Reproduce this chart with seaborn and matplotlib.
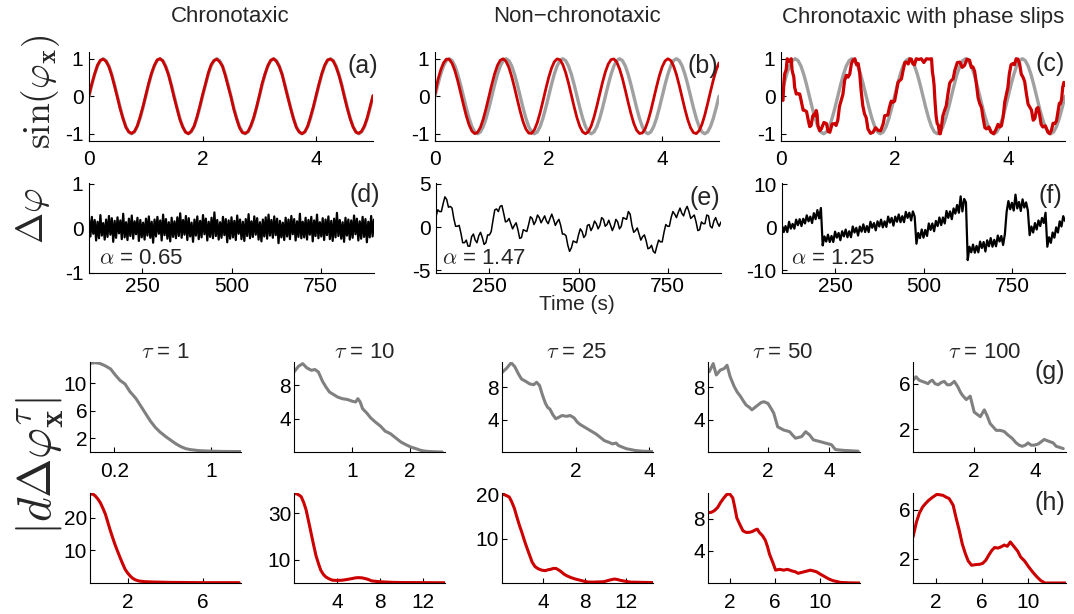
import matplotlib
matplotlib.use("Agg")
import matplotlib.pyplot as plt
from matplotlib.ticker import FormatStrFormatter
import numpy as np
import seaborn as sns

# ---------------- top row: sin(phase), t = 0..5 s ----------------
t_top = np.linspace(0, 5, 101)

sin_ref = [0.0, 0.309, 0.588, 0.809, 0.951, 1.0, 0.951, 0.809, 0.588, 0.309,
           0.0, -0.309, -0.588, -0.809, -0.951, -1.0, -0.951, -0.809, -0.588, -0.309,
           0.0, 0.309, 0.588, 0.809, 0.951, 1.0, 0.951, 0.809, 0.588, 0.309,
           0.0, -0.309, -0.588, -0.809, -0.951, -1.0, -0.951, -0.809, -0.588, -0.309,
           0.0, 0.309, 0.588, 0.809, 0.951, 1.0, 0.951, 0.809, 0.588, 0.309,
           0.0, -0.309, -0.588, -0.809, -0.951, -1.0, -0.951, -0.809, -0.588, -0.309,
           0.0, 0.309, 0.588, 0.809, 0.951, 1.0, 0.951, 0.809, 0.588, 0.309,
           0.0, -0.309, -0.588, -0.809, -0.951, -1.0, -0.951, -0.809, -0.588, -0.309,
           0.0, 0.309, 0.588, 0.809, 0.951, 1.0, 0.951, 0.809, 0.588, 0.309,
           0.0, -0.309, -0.588, -0.809, -0.951, -1.0, -0.951, -0.809, -0.588, -0.309,
           0.0]

sin_chrono = [0.02, 0.33, 0.6, 0.83, 0.96, 0.99, 0.93, 0.79, 0.56, 0.27,
              -0.03, -0.34, -0.6, -0.83, -0.95, -0.99, -0.94, -0.79, -0.55, -0.28,
              0.03, 0.34, 0.61, 0.82, 0.97, 1.0, 0.94, 0.78, 0.57, 0.28,
              -0.04, -0.33, -0.62, -0.82, -0.96, -1.0, -0.93, -0.8, -0.56, -0.27,
              0.04, 0.32, 0.62, 0.84, 0.95, 0.99, 0.92, 0.8, 0.55, 0.26,
              -0.02, -0.35, -0.61, -0.84, -0.97, -0.99, -0.94, -0.78, -0.57, -0.29,
              0.02, 0.35, 0.6, 0.82, 0.96, 1.0, 0.93, 0.79, 0.58, 0.27,
              -0.03, -0.32, -0.6, -0.83, -0.95, -1.0, -0.95, -0.8, -0.55, -0.28,
              0.03, 0.33, 0.61, 0.83, 0.97, 0.99, 0.94, 0.78, 0.56, 0.28,
              -0.04, -0.34, -0.61, -0.82, -0.96, -0.99, -0.93, -0.79, -0.57, -0.27,
              0.02]

sin_nonchrono = [0.05, 0.434, 0.699, 0.890, 0.989, 0.985, 0.879, 0.681, 0.412, 0.101,
                 -0.221, -0.520, -0.764, -0.930, -0.998, -0.963, -0.828, -0.605, -0.320, -0.004,
                 0.314, 0.600, 0.824, 0.961, 0.999, 0.932, 0.770, 0.527, 0.229, -0.093,
                 -0.405, -0.676, -0.875, -0.983, -0.990, -0.894, -0.707, -0.443, -0.133, 0.189,
                 0.492, 0.743, 0.918, 0.996, 0.972, 0.845, 0.632, 0.353, 0.036, -0.284,
                 -0.577, -0.806, -0.952, -1.000, -0.945, -0.791, -0.554, -0.260, 0.061, 0.375,
                 0.651, 0.858, 0.977, 0.994, 0.908, 0.727, 0.471, 0.165, -0.158, -0.463,
                 -0.724, -0.905, -0.993, -0.979, -0.866, -0.659, -0.385, -0.068, 0.252, 0.547,
                 0.785, 0.941, 1.000, 0.954, 0.809, 0.582, 0.292, -0.028, -0.345, -0.627,
                 -0.842, -0.970, -0.997, -0.920, -0.749, -0.500, -0.196, 0.125, 0.434, 0.699,
                 0.890]

t_slips = [0.0, 0.003, 0.006, 0.02, 0.035, 0.05, 0.065, 0.09, 0.11, 0.145,
           0.18, 0.195, 0.21, 0.225, 0.24, 0.27, 0.30, 0.33, 0.36, 0.39,
           0.42, 0.45, 0.48, 0.505, 0.53, 0.56, 0.59, 0.605, 0.62, 0.635,
           0.65, 0.68, 0.71, 0.755, 0.80, 0.83, 0.86, 0.90, 0.94, 0.97,
           1.0, 1.03, 1.06, 1.09, 1.12, 1.15, 1.18, 1.21, 1.24, 1.27,
           1.30, 1.33, 1.36, 1.385, 1.41, 1.44, 1.47, 1.50, 1.53, 1.575,
           1.62, 1.665, 1.71, 1.755, 1.80, 1.825, 1.85, 1.88, 1.91, 1.94,
           1.97, 2.0, 2.03, 2.06, 2.09, 2.12, 2.15, 2.18, 2.21, 2.24,
           2.27, 2.295, 2.32, 2.35, 2.38, 2.425, 2.47, 2.515, 2.56, 2.605,
           2.65, 2.665, 2.68, 2.695, 2.71, 2.73, 2.75, 2.77, 2.79, 2.805,
           2.82, 2.85, 2.88, 2.91, 2.94, 2.97, 3.0, 3.03, 3.06, 3.105,
           3.15, 3.19, 3.23, 3.275, 3.32, 3.35, 3.38, 3.41, 3.44, 3.47,
           3.50, 3.53, 3.56, 3.59, 3.62, 3.66, 3.70, 3.745, 3.79, 3.82,
           3.85, 3.88, 3.91, 3.94, 3.97, 3.995, 4.02, 4.05, 4.08, 4.11,
           4.14, 4.17, 4.20, 4.23, 4.26, 4.29, 4.32, 4.35, 4.38, 4.41,
           4.44, 4.47, 4.50, 4.525, 4.55, 4.58, 4.61, 4.655, 4.70, 4.73,
           4.76, 4.79, 4.82, 4.85, 4.88, 4.90, 4.92, 4.94, 4.96, 4.98,
           5.0]
sin_slips = [0.05, 0.18, 0.11, -0.1, -0.11, 0.35, 0.6, 0.7, 1.0, 0.93,
             1.0, 0.7, 0.6, 0.52, 0.24, 0.06, 0.07, 0.06, -0.16, -0.37,
             -0.38, -0.41, -0.64, -0.81, -0.78, -0.52, -0.47, -0.52, -0.38, -0.48,
             -0.78, -0.92, -0.87, -0.7, -0.73, -0.94, -0.96, -0.74, -0.73, -0.78,
             -0.64, -0.27, -0.11, 0.05, 0.42, 0.56, 0.51, 0.59, 0.87, 0.97,
             1.0, 0.84, 0.87, 0.62, 0.16, -0.25, -0.47, -0.57, -0.87, -0.99,
             -0.96, -0.84, -0.91, -0.92, -0.73, -0.52, -0.51, -0.5, -0.29, -0.13,
             -0.16, -0.13, 0.11, 0.37, 0.42, 0.46, 0.69, 0.9, 0.91, 0.86,
             1.0, 0.99, 0.87, 0.84, 1.0, 0.98, 1.0, 0.9, 1.0, 0.99,
             1.0, 0.66, 0.51, 0.3, -0.11, -0.52, -0.73, -0.77, -1.0, -1.0,
             -0.87, -0.52, -0.38, -0.25, 0.07, 0.35, 0.42, 0.46, 0.69, 0.9,
             0.91, 0.77, 0.82, 0.99, 0.96, 0.77, 0.78, 0.66, 0.33, -0.04,
             -0.2, -0.3, -0.6, -0.84, -0.87, -0.82, -0.96, -1.0, -0.87, -0.75,
             -0.82, -0.79, -0.56, -0.15, 0.07, 0.24, 0.6, 0.84, 0.87, 0.84,
             1.0, 0.99, 0.87, 0.59, 0.51, 0.39, 0.07, -0.21, -0.29, -0.37,
             -0.64, -0.59, -0.33, -0.3, -0.47, -0.75, -0.82, -0.79, -0.96, -1.0,
             -0.91, -0.72, -0.73, -0.66, -0.38, -0.19, -0.2, -0.08, 0.24, 0.37,
             0.3]

# ---------------- middle row: phase difference, t = 100..900 s ----------------
t_d = np.arange(100, 901, 4)
t_ef = np.arange(100, 901, 5)

dphi_chrono = [0.21, -0.18, 0.26, -0.12, 0.19, -0.27, 0.15, -0.22, 0.3, -0.16,
               0.12, -0.25, 0.2, -0.19, 0.28, -0.14, 0.23, -0.3, 0.17, -0.21,
               0.25, -0.11, 0.18, -0.24, 0.33, -0.2, 0.14, -0.26, 0.22, -0.17,
               0.29, -0.23, 0.16, -0.13, 0.24, -0.28, 0.19, -0.2, 0.13, -0.25,
               0.22, -0.16, 0.27, -0.21, 0.15, -0.32, 0.2, -0.18, 0.26, -0.12,
               0.18, -0.27, 0.31, -0.15, 0.21, -0.23, 0.14, -0.29, 0.24, -0.19,
               0.16, -0.22, 0.25, -0.17, 0.34, -0.21, 0.19, -0.14, 0.28, -0.26,
               0.23, -0.18, 0.13, -0.3, 0.2, -0.16, 0.27, -0.24, 0.17, -0.2,
               0.3, -0.13, 0.22, -0.27, 0.15, -0.19, 0.24, -0.22, 0.36, -0.17,
               0.19, -0.25, 0.14, -0.21, 0.26, -0.15, 0.21, -0.31, 0.18, -0.23,
               0.25, -0.2, 0.17, -0.26, 0.29, -0.12, 0.2, -0.24, 0.15, -0.28,
               0.21, -0.17, 0.32, -0.22, 0.16, -0.19, 0.27, -0.14, 0.23, -0.25,
               0.14, -0.29, 0.2, -0.18, 0.25, -0.23, 0.31, -0.16, 0.19, -0.21,
               0.27, -0.15, 0.22, -0.33, 0.17, -0.2, 0.13, -0.26, 0.24, -0.18,
               0.2, -0.24, 0.28, -0.13, 0.21, -0.27, 0.16, -0.19, 0.33, -0.22,
               0.15, -0.2, 0.24, -0.25, 0.19, -0.14, 0.26, -0.29, 0.18, -0.17,
               0.31, -0.22, 0.14, -0.18, 0.23, -0.26, 0.2, -0.15, 0.27, -0.24,
               0.17, -0.28, 0.22, -0.2, 0.35, -0.17, 0.19, -0.23, 0.14, -0.3,
               0.24, -0.16, 0.2, -0.25, 0.18, -0.21, 0.29, -0.13, 0.22, -0.27,
               0.16, -0.23, 0.26, -0.19, 0.21, -0.31, 0.15, -0.2, 0.28, -0.18,
               0.2]

dphi_nonchrono = [1.2, 2.0, 1.8, 1.8, 2.7, 3.5, 3.2, 2.3, 2.4, 2.2,
                  1.0, 0.1, 0.1, 0.2, -0.7, -1.8, -1.8, -1.5, -2.2, -2.2,
                  -1.1, -0.8, -1.5, -1.8, -1.0, -0.6, -1.2, -2.0, -1.8, -0.9,
                  -0.9, -0.5, 0.8, 2.0, 2.1, 1.8, 2.4, 2.5, 1.6, 0.6,
                  0.7, 1.0, 0.4, -0.2, 0.2, 0.5, -0.3, -1.3, -1.2, -0.3,
                  -0.4, -0.5, 0.3, 1.2, 1.0, 0.3, 0.7, 1.4, 1.1, 0.5,
                  0.9, 1.3, 0.7, 0.4, 1.0, 1.5, 0.9, 0.2, 0.6, 0.9,
                  0.2, -0.8, -0.8, -1.0, -2.1, -2.8, -2.4, -1.6, -1.7, -1.8,
                  -0.9, -0.2, -0.5, -1.2, -0.9, 0.2, 0.3, -0.4, 0.0, 0.7,
                  0.4, -0.2, 0.2, 1.1, 0.9, 0.1, 0.3, 0.8, 0.2, -0.4,
                  0.1, 0.9, 0.6, -0.2, 0.1, 1.1, 1.0, 0.9, 1.8, 1.5,
                  0.2, -0.6, -0.4, -0.1, -0.8, -1.5, -1.1, -0.9, -1.6, -2.5,
                  -2.4, -2.1, -2.8, -3.0, -2.2, -1.5, -1.7, -1.7, -0.6, 0.3,
                  0.1, 0.1, 1.1, 1.8, 1.5, 1.1, 1.7, 2.2, 1.6, 1.3,
                  2.0, 2.4, 1.8, 1.0, 1.2, 1.4, 0.6, -0.4, -0.3, 0.6,
                  0.4, 0.4, 1.4, 1.3, 0.1, -0.1, 0.7, 1.1, 0.5, 0.1,
                  0.6]

# phase-slip trace, one list per stretch between slips
slip_seg1 = [0.4, -1.1, 0.3, -1.1, 1.3, -0.3, 0.8, -0.3, 1.8, 0.5, 1.9, 0.3,
             2.0, 0.9, 2.8, 1.4, 2.5, 1.0, 3.3, 1.9, 4.0, 2.1, 4.5]
slip_seg2 = [-4.2, -2.1, -3.3, -1.7, -3.4, -2.0, -3.4, -1.0, -2.4, -1.3,
             -3.0, -0.9, -2.1, -0.5, -2.3, -0.9, -2.3, 0.2, -1.2, -0.1,
             -1.9, 0.2, -1.0, 0.7, -1.1, 0.3, -1.1, 1.3, -0.1, 1.0,
             -0.7, 1.4, 0.2, 1.8, 0.0, 1.4, 0.1, 2.5, 1.1, 2.2,
             0.4, 2.5, 1.3, 3.0, 1.2, 2.6, 1.2, 3.6, 2.2, 3.4,
             1.6, 3.7, 2.5]
slip_seg3 = [-3.8, -1.3, -2.5, -0.5, -2.4, -0.6, -2.0, 0.9, -0.6, 0.9,
             -0.9, 1.5, 0.3, 2.3, 0.5, 2.3, 0.9, 3.8, 2.2, 3.7,
             1.9, 4.4, 3.2, 5.2, 3.4, 7.2, 3.7, 6.6, 5.8]
slip_seg4 = [-7.6, -4.5, -5.8, -4.0, -5.9, -4.3, -5.8, -3.3, -4.8, -3.4,
             -5.6, -3.0, -4.4, -2.5, -4.5, -2.9, -4.4, -1.9, -3.3, -2.0,
             -4.1, -1.6]
slip_seg5 = [3.6, 6.1, 4.2, 5.7, 3.9, 7.6, 4.4, 5.9, 3.8, 6.5, 4.6, 5.8, 3.9]
slip_seg6 = [-1.8, 0.2, -1.2, 1.0, -0.5, 1.6, 0.3, 2.2, 1.0, 3.4]
slip_seg7 = [-4.5, -2.3, -3.6, -1.2, -2.4, 0.0, -1.2, 1.4, 0.2, 2.6, 1.5]
dphi_slips = slip_seg1 + slip_seg2 + slip_seg3 + slip_seg4 + slip_seg5 + slip_seg6 + slip_seg7

alpha_labels = ["0.65", "1.47", "1.25"]

# ---------------- bottom rows: densities of |d dphi^tau| ----------------
taus = [1, 10, 25, 50, 100]

g_x = [
    [0, 0.04, 0.08, 0.12, 0.17, 0.21, 0.25, 0.29, 0.33, 0.38, 0.42, 0.46, 0.5,
     0.54, 0.58, 0.63, 0.67, 0.71, 0.75, 0.79, 0.83, 0.9, 1.0, 1.1, 1.25],
    [0, 0.08, 0.15, 0.22, 0.3, 0.36, 0.42, 0.49, 0.55, 0.61, 0.68, 0.75, 0.83,
     0.92, 1.0, 1.06, 1.1, 1.14, 1.18, 1.25, 1.32, 1.4, 1.49, 1.57, 1.66, 1.75,
     1.84, 1.92, 2.01, 2.1, 2.18, 2.26, 2.35, 2.45, 2.55],
    [0, 0.12, 0.25, 0.35, 0.45, 0.53, 0.65, 0.75, 0.86, 0.94, 1.02, 1.1, 1.18,
     1.24, 1.3, 1.38, 1.46, 1.55, 1.63, 1.75, 1.85, 1.96, 2.04, 2.12, 2.23, 2.34,
     2.45, 2.56, 2.67, 2.78, 2.9, 3.0, 3.1, 3.16, 3.27, 3.38, 3.5, 3.6, 3.8, 4.09],
    [0.09, 0.22, 0.32, 0.45, 0.58, 0.67, 0.77, 0.9, 1.0, 1.1, 1.2, 1.29, 1.4,
     1.48, 1.58, 1.68, 1.78, 1.87, 2.0, 2.1, 2.19, 2.32, 2.42, 2.52, 2.62, 2.71,
     2.8, 2.9, 3.0, 3.1, 3.23, 3.36, 3.48, 3.58, 3.68, 3.78, 3.87, 3.97, 4.07,
     4.2, 4.33, 4.46, 4.7, 4.94],
    [0, 0.1, 0.2, 0.3, 0.4, 0.49, 0.56, 0.63, 0.72, 0.82, 0.92, 1.02, 1.12, 1.22,
     1.35, 1.47, 1.54, 1.61, 1.74, 1.87, 2.0, 2.1, 2.2, 2.33, 2.42, 2.52, 2.62,
     2.72, 2.85, 2.98, 3.1, 3.24, 3.37, 3.47, 3.57, 3.67, 3.76, 3.86, 3.96, 4.09,
     4.19, 4.29, 4.38, 4.48, 4.58, 4.68, 4.8, 4.91],
]
g_y = [
    [12.9, 13.0, 12.9, 12.6, 12.1, 11.2, 10.4, 9.9, 8.8, 7.8, 6.7, 5.6, 4.5,
     3.6, 2.9, 2.2, 1.7, 1.2, 0.8, 0.5, 0.35, 0.2, 0.12, 0.08, 0.06],
    [9.6, 10.3, 10.6, 10.1, 9.8, 9.9, 9.6, 8.5, 7.8, 7.2, 6.9, 6.6, 6.4, 6.3,
     6.1, 6.0, 6.4, 6.0, 5.2, 4.7, 4.1, 3.6, 3.1, 2.5, 2.2, 1.7, 1.2, 0.9, 0.6,
     0.4, 0.2, 0.1, 0.05, 0.02, 0.0],
    [9.8, 10.3, 11.0, 10.5, 9.6, 9.0, 8.7, 8.4, 8.3, 8.6, 8.2, 7.0, 6.0, 5.5,
     5.3, 4.6, 4.1, 4.3, 4.5, 4.4, 4.5, 4.2, 3.7, 3.4, 3.1, 2.8, 2.5, 2.2, 1.8,
     1.4, 1.2, 1.0, 1.1, 0.8, 0.6, 0.4, 0.3, 0.2, 0.1, 0.05],
    [9.9, 10.9, 9.5, 10.1, 10.3, 10.7, 9.3, 8.1, 7.4, 6.9, 6.3, 5.8, 5.5, 5.2,
     5.5, 5.8, 6.1, 6.2, 6.0, 5.4, 4.8, 3.1, 2.9, 2.7, 2.6, 2.5, 2.1, 1.7, 1.8,
     1.9, 2.5, 2.1, 1.5, 1.4, 1.3, 1.2, 1.1, 1.0, 0.9, 0.3, 0.25, 0.2, 0.15, 0.1],
    [6.3, 6.6, 6.3, 6.2, 6.1, 6.0, 6.2, 6.3, 6.0, 5.9, 6.1, 6.2, 5.9, 5.9, 6.2,
     5.7, 5.3, 5.0, 4.6, 4.9, 3.5, 3.3, 3.1, 3.7, 3.2, 2.5, 2.2, 1.9, 1.9, 1.8,
     1.5, 1.2, 0.8, 0.6, 0.5, 0.6, 0.8, 0.6, 0.6, 0.7, 0.9, 1.1, 1.0, 0.9, 0.8,
     0.5, 0.4, 0.3],
]
h_x = [
    [0, 0.15, 0.28, 0.41, 0.54, 0.67, 0.81, 0.94, 1.07, 1.2, 1.33, 1.47, 1.6,
     1.73, 1.86, 1.99, 2.12, 2.25, 2.39, 2.6, 2.91, 3.4, 4.14, 5.0, 6.0, 7.0, 7.9],
    [0, 0.27, 0.5, 0.67, 0.9, 1.12, 1.35, 1.58, 1.81, 2.04, 2.27, 2.49, 2.72,
     2.95, 3.25, 3.56, 4.0, 4.47, 4.9, 5.38, 5.7, 5.99, 6.3, 6.6, 6.9, 7.2, 7.6,
     8.1, 9.0, 10.0, 12.0, 14.0],
    [0, 0.35, 0.7, 0.94, 1.2, 1.42, 1.68, 1.93, 2.2, 2.45, 2.7, 2.92, 3.2, 3.52,
     3.85, 4.19, 4.45, 4.71, 4.95, 5.22, 5.45, 5.7, 6.0, 6.3, 6.7, 7.09, 7.6,
     8.08, 8.5, 8.87, 9.4, 9.86, 10.3, 10.85, 11.15, 11.45, 11.9, 12.44, 13.5, 14.6],
    [0.12, 0.4, 0.66, 0.95, 1.2, 1.45, 1.74, 2.0, 2.28, 2.45, 2.64, 2.9, 3.18,
     3.45, 3.72, 4.0, 4.26, 4.45, 4.62, 4.9, 5.16, 5.35, 5.52, 5.8, 6.06, 6.4,
     6.78, 7.1, 7.5, 7.8, 8.04, 8.3, 8.58, 8.85, 9.12, 9.4, 9.66, 10.0, 10.38,
     10.75, 11.1, 11.8, 12.6, 13.5],
    [0, 0.3, 0.55, 0.83, 1.1, 1.36, 1.7, 2.07, 2.35, 2.6, 2.9, 3.14, 3.49, 3.75,
     4.02, 4.28, 4.55, 4.8, 5.09, 5.45, 5.8, 6.05, 6.33, 6.6, 6.86, 7.1, 7.39,
     7.65, 7.93, 8.2, 8.46, 8.81, 9.1, 9.35, 9.7, 10.06, 10.4, 10.77, 11.1,
     11.48, 12.3, 13.25],
]
h_y = [
    [27.2, 27.3, 26.7, 25.8, 24.7, 23.1, 21.2, 18.7, 16.2, 13.9, 11.7, 9.6, 7.7,
     5.9, 4.2, 3.1, 2.2, 1.5, 1.0, 0.6, 0.4, 0.3, 0.2, 0.15, 0.1, 0.1, 0.1],
    [38.4, 38.2, 37.6, 37.0, 34.5, 31.4, 26.5, 21.5, 16.5, 11.7, 8.3, 5.4, 3.7,
     2.6, 1.8, 1.2, 1.1, 1.2, 1.5, 1.9, 2.2, 2.3, 2.2, 1.9, 1.5, 0.9, 0.7, 0.5,
     0.3, 0.2, 0.15, 0.1],
    [20.3, 19.9, 19.5, 18.4, 16.9, 15.1, 13.1, 11.4, 9.4, 7.7, 6.1, 4.7, 3.7,
     3.2, 2.9, 2.8, 3.0, 3.1, 3.3, 3.3, 3.0, 2.6, 2.0, 1.6, 1.2, 0.9, 0.6, 0.3,
     0.2, 0.2, 0.25, 0.3, 0.6, 0.9, 0.8, 0.6, 0.4, 0.2, 0.15, 0.1],
    [8.75, 8.8, 9.0, 9.4, 10.0, 10.5, 11.0, 11.1, 10.6, 9.5, 8.1, 7.3, 6.5, 6.3,
     6.3, 6.4, 6.6, 6.7, 6.3, 5.9, 5.3, 4.5, 3.6, 2.6, 1.6, 1.7, 1.6, 1.7, 1.5,
     1.4, 1.2, 1.3, 1.4, 1.5, 1.6, 1.5, 1.4, 1.1, 0.8, 0.5, 0.3, 0.07, 0.02, 0.0],
    [3.76, 4.98, 5.7, 6.2, 6.5, 6.75, 7.0, 7.24, 7.2, 7.16, 7.0, 6.9, 6.35, 5.3,
     4.3, 3.2, 2.4, 1.8, 1.45, 1.5, 1.53, 1.6, 1.86, 2.3, 2.67, 2.9, 2.85, 2.95,
     3.1, 3.0, 3.35, 2.94, 2.6, 2.13, 1.8, 1.31, 0.9, 0.5, 0.2, 0.0, 0.0, 0.0],
]

g_xticks = [[0.2, 1], [1, 2], [2, 4], [2, 4], [2, 4]]
g_yticks = [[2, 6, 10], [4, 8], [4, 8], [4, 8], [2, 6]]
g_xlim = [(0, 1.25), (0, 2.6), (0, 4.1), (0.05, 5.0), (0, 5.0)]
g_ylim = [(0, 13.1), (0, 10.8), (0, 11.1), (0, 11.1), (0, 7.9)]
h_xticks = [[2, 6], [4, 8, 12], [4, 8, 12], [2, 6, 10], [2, 6, 10]]
h_yticks = [[10, 20], [10, 30], [10, 20], [4, 8], [2, 6]]
h_xlim = [(0, 8), (0, 14), (0, 14.6), (0.1, 13.5), (0, 13.3)]
h_ylim = [(0, 27.6), (0, 38.6), (0, 20.4), (0, 11.2), (0, 7.35)]

RED = "#cc0000"
GREY_TOP = "#a0a0a0"
GREY_G = "#808080"

sns.set_style("ticks")
plt.rcParams["font.family"] = ["Liberation Sans", "DejaVu Sans"]
plt.rcParams["mathtext.fontset"] = "cm"

W, H = 1074, 614
fig = plt.figure(figsize=(W / 100, H / 100), dpi=100)


def panel(x0, x1, y0, y1):
    return fig.add_axes([x0 / W, 1 - y1 / H, (x1 - x0) / W, (y1 - y0) / H])


def style(ax, xlim, ylim, xt, yt, xpad=6, ypad=4):
    ax.set_xlim(xlim)
    ax.set_ylim(ylim)
    ax.set_xticks(xt)
    ax.set_yticks(yt)
    ax.xaxis.set_major_formatter(FormatStrFormatter("%g"))
    ax.yaxis.set_major_formatter(FormatStrFormatter("%g"))
    ax.set_xlabel("")
    ax.set_ylabel("")
    sns.despine(ax=ax)
    for s in ["left", "bottom"]:
        ax.spines[s].set_linewidth(0.8)
        ax.spines[s].set_color("black")
    ax.tick_params(direction="in", length=3.5, width=0.8, labelsize=15, colors="black")
    ax.tick_params(axis="x", pad=xpad)
    ax.tick_params(axis="y", pad=ypad)


def ftext(x, y, s, **kw):
    fig.text(x / W, 1 - y / H, s, **kw)


def line(ax, x, y, color, lw):
    sns.lineplot(x=x, y=y, ax=ax, color=color, linewidth=lw,
                 sort=False, estimator=None)


# top row
top_x = [(89, 373), (435, 719), (781, 1065)]
top_red = [(t_top, sin_chrono, 2.0), (t_top, sin_nonchrono, 2.0), (t_slips, sin_slips, 2.3)]
for (x0, x1), (tr, yr, lw) in zip(top_x, top_red):
    ax = panel(x0, x1, 52, 140.5)
    line(ax, t_top, sin_ref, GREY_TOP, 2.4)
    line(ax, tr, yr, RED, lw)
    style(ax, (0, 5), (-1.18, 1.18), [0, 2, 4], [-1, 0, 1], xpad=7)

# middle row
mid_x = [(89, 374), (436, 721), (782, 1065)]
mid_data = [(t_d, dphi_chrono, (-1, 1.02), [-1, 0, 1], 1.6),
            (t_ef, dphi_nonchrono, (-5.3, 5.1), [-5, 0, 5], 1.1),
            (t_ef, dphi_slips, (-10.6, 10.3), [-10, 0, 10], 1.6)]
for (x0, x1), (tt, yy, yl, yt, lw) in zip(mid_x, mid_data):
    ax = panel(x0, x1, 183, 273)
    line(ax, tt, yy, "black", lw)
    style(ax, (100, 900), yl, [250, 500, 750], yt, xpad=3)

# bottom rows
bot_x = [(90, 241), (294, 445), (502, 653), (708, 860), (913, 1066)]
for i, (x0, x1) in enumerate(bot_x):
    ax = panel(x0, x1, 362, 452)
    line(ax, g_x[i], g_y[i], GREY_G, 2.2)
    style(ax, g_xlim[i], g_ylim[i], g_xticks[i], g_yticks[i], xpad=7, ypad=2)
    ax = panel(x0, x1, 493, 583)
    line(ax, h_x[i], h_y[i], RED, 2.2)
    style(ax, h_xlim[i], h_ylim[i], h_xticks[i], h_yticks[i], xpad=7, ypad=2)

# titles and labels
for xc, s in zip([230, 577, 923],
                 ["Chronotaxic", "Non\u2212chronotaxic", "Chronotaxic with phase slips"]):
    ftext(xc, 17, s, ha="center", va="center", fontsize=16)

for xc, tau in zip([165, 364, 576, 782, 985], taus):
    ftext(xc, 352, r"$\tau$ = %d" % tau, ha="center", va="center", fontsize=16)

for (xc, yc), s in zip([(363, 66), (703, 66), (1050, 64), (365, 195), (705, 198),
                        (1050, 196), (1050, 372), (1050, 503)],
                       ["(a)", "(b)", "(c)", "(d)", "(e)", "(f)", "(g)", "(h)"]):
    ftext(xc, yc, s, ha="center", va="center", fontsize=18)

for xl, a in zip([99, 442, 791], alpha_labels):
    ftext(xl, 259, r"$\alpha$ = " + a, ha="left", va="center", fontsize=16)

ftext(577, 305, "Time (s)", ha="center", va="center", fontsize=15)

ftext(41, 92, r"$\sin(\varphi_{\mathbf{x}})$", ha="center", va="center",
      rotation=90, fontsize=27)
ftext(33, 216, r"$\Delta\varphi$", ha="center", va="center", rotation=90, fontsize=27)
ftext(40, 466, r"$|d\Delta\varphi^{\tau}_{\mathbf{x}}|$", ha="center", va="center",
      rotation=90, fontsize=34)

fig.savefig("out.png", dpi=100)
